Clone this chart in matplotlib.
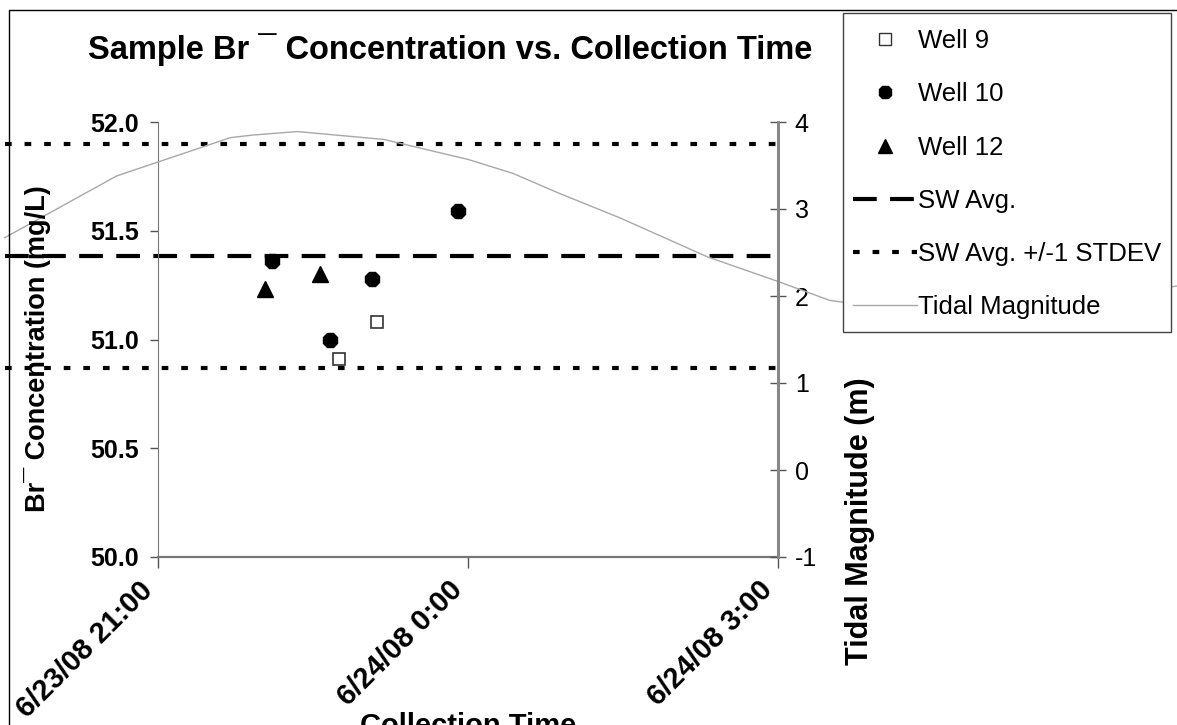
import datetime as dt

import matplotlib
matplotlib.use("Agg")
import matplotlib.pyplot as plt
from matplotlib.lines import Line2D
from matplotlib.patches import Rectangle

plt.rcParams["font.family"] = ["Liberation Sans", "DejaVu Sans"]

# ========== 数据 ==========
well9_time = ["2008-06-23 22:45", "2008-06-23 23:07"]
well9_br = [50.91, 51.08]

well10_time = ["2008-06-23 22:06", "2008-06-23 22:40", "2008-06-23 23:04", "2008-06-23 23:54"]
well10_br = [51.36, 51.00, 51.28, 51.59]

well12_time = ["2008-06-23 22:02", "2008-06-23 22:34"]
well12_br = [51.23, 51.30]

# 海水平均值及 +/-1 标准差（两端点）
sw_time = ["2008-06-23 19:31", "2008-06-24 03:00"]
sw_avg = 51.385
sw_std = 0.515

tide_time = ["2008-06-23 19:31", "2008-06-23 20:36", "2008-06-23 21:42", "2008-06-23 21:55",
             "2008-06-23 22:21", "2008-06-23 23:11", "2008-06-24 00:00", "2008-06-24 00:26",
             "2008-06-24 00:53", "2008-06-24 01:28", "2008-06-24 02:19", "2008-06-24 03:01",
             "2008-06-24 03:30", "2008-06-24 04:18", "2008-06-24 05:18", "2008-06-24 06:54"]
tide_m = [2.67, 3.38, 3.82, 3.85, 3.89, 3.80, 3.57, 3.41,
          3.18, 2.90, 2.45, 2.16, 1.95, 1.82, 1.88, 2.12]

x_ticks = ["2008-06-23 21:00", "2008-06-24 00:00", "2008-06-24 03:00"]
x_tick_labels = ["6/23/08 21:00", "6/24/08 0:00", "6/24/08 3:00"]
left_ticks = [50.0, 50.5, 51.0, 51.5, 52.0]
right_ticks = [-1, 0, 1, 2, 3, 4]


def to_dt(items):
    return [dt.datetime.strptime(s, "%Y-%m-%d %H:%M") for s in items]


fig = plt.figure(figsize=(11.77, 7.25), dpi=100)
ax = fig.add_axes([158 / 1177, 1 - 557 / 725, 620 / 1177, 435 / 725])
ax2 = ax.twinx()

# 外框
fig.patches.append(Rectangle((9 / 1177, -0.1), 1.2, 1 - 10 / 725 + 0.1, transform=fig.transFigure,
                             fill=False, edgecolor="black", linewidth=1.0))

# ---- 水平参考线 ----
dash_avg = (0, (5.7, 3.2))
dash_std = (0, (1.6, 3.1))
t_sw = to_dt(sw_time)
ax.plot(t_sw, [sw_avg] * 2, color="black", linewidth=3, linestyle=dash_avg, clip_on=False)
ax.plot(t_sw, [sw_avg + sw_std] * 2, color="black", linewidth=3, linestyle=dash_std, clip_on=False)
ax.plot(t_sw, [sw_avg - sw_std] * 2, color="black", linewidth=3, linestyle=dash_std, clip_on=False)

# ---- 采样点 ----
ax.plot(to_dt(well9_time), well9_br, linestyle="none", marker="s", markersize=9,
        markerfacecolor="white", markeredgecolor="#333333", markeredgewidth=1.2, zorder=5)
ax.plot(to_dt(well10_time), well10_br, linestyle="none", marker="8", markersize=10.5,
        color="black", zorder=5)
ax.plot(to_dt(well12_time), well12_br, linestyle="none", marker="^", markersize=11,
        color="black", zorder=5)

# ---- 潮位 ----
ax2.plot(to_dt(tide_time), tide_m, color="#a8a8a8", linewidth=1.0, clip_on=False)

# ---- 坐标轴 ----
ax.set_xlim(to_dt(x_ticks)[0], to_dt(x_ticks)[-1])
ax.set_ylim(50, 52)
ax2.set_ylim(-1, 4)

ax.set_xticks(to_dt(x_ticks))
ax.set_xticklabels(x_tick_labels, rotation=45, ha="right", va="bottom", rotation_mode="anchor",
                   fontsize=21, fontweight="bold")
ax.set_yticks(left_ticks)
ax.set_yticklabels([f"{v:.1f}" for v in left_ticks], fontsize=18, fontweight="bold")
ax2.set_yticks(right_ticks)
ax2.set_yticklabels([str(v) for v in right_ticks], fontsize=18)

ax.tick_params(axis="y", direction="out", length=6, width=1, color="#555555", pad=8)
ax.tick_params(axis="x", direction="out", length=8, width=1, color="#555555", pad=20)
ax2.tick_params(axis="y", direction="inout", length=12, width=1, color="#555555", pad=6)

for s in ["top", "right"]:
    ax.spines[s].set_visible(False)
for s in ["top", "left", "bottom"]:
    ax2.spines[s].set_visible(False)
ax.spines["left"].set_color("#777777")
ax.spines["bottom"].set_color("#777777")
ax.spines["bottom"].set_linewidth(1.6)
ax2.spines["right"].set_color("#888888")
ax2.spines["right"].set_linewidth(2.2)

fig.text(38 / 1177, 1 - 349 / 725, "Br\u00af Concentration (mg/L)", rotation=90,
         ha="center", va="center", fontsize=19.5, fontweight="bold")
fig.text(860 / 1177, 1 - 521 / 725, "Tidal Magnitude (m)", rotation=90,
         ha="center", va="center", fontsize=22, fontweight="bold")
fig.text(468 / 1177, 1 - 712 / 725, "Collection Time", ha="center", va="top",
         fontsize=21, fontweight="bold")
fig.text(450 / 1177, 1 - 50 / 725, "Sample Br \u00af Concentration vs. Collection Time",
         ha="center", va="center", fontsize=23.5, fontweight="bold")

# ---- 图例 ----
# 图例外框单独画（白底，盖住潮位线）
fig.patches.append(Rectangle((843 / 1177, 1 - 332 / 725), 328 / 1177, 319 / 725,
                             transform=fig.transFigure, facecolor="white",
                             edgecolor="#444444", linewidth=1.0, zorder=4))
handles = [
    Line2D([], [], linestyle="none", marker="s", markersize=8, markerfacecolor="white",
           markeredgecolor="#333333", markeredgewidth=1.0),
    Line2D([], [], linestyle="none", marker="8", markersize=9.5, color="black"),
    Line2D([], [], linestyle="none", marker="^", markersize=10, color="black"),
    Line2D([], [], color="black", linewidth=3, linestyle=dash_avg),
    Line2D([], [], color="black", linewidth=3, linestyle=dash_std),
    Line2D([], [], color="#a8a8a8", linewidth=1.0),
]
labels = ["Well 9", "Well 10", "Well 12", "SW Avg.", "SW Avg. +/-1 STDEV", "Tidal Magnitude"]
leg = fig.legend(handles, labels, loc="upper left", bbox_to_anchor=(853 / 1177, 1 - 29 / 725),
                 fontsize=18.5, frameon=False, handlelength=2.5, handletextpad=0.04,
                 labelspacing=1.14, borderpad=0.0, borderaxespad=0.0)

fig.savefig("out.png", dpi=100)
